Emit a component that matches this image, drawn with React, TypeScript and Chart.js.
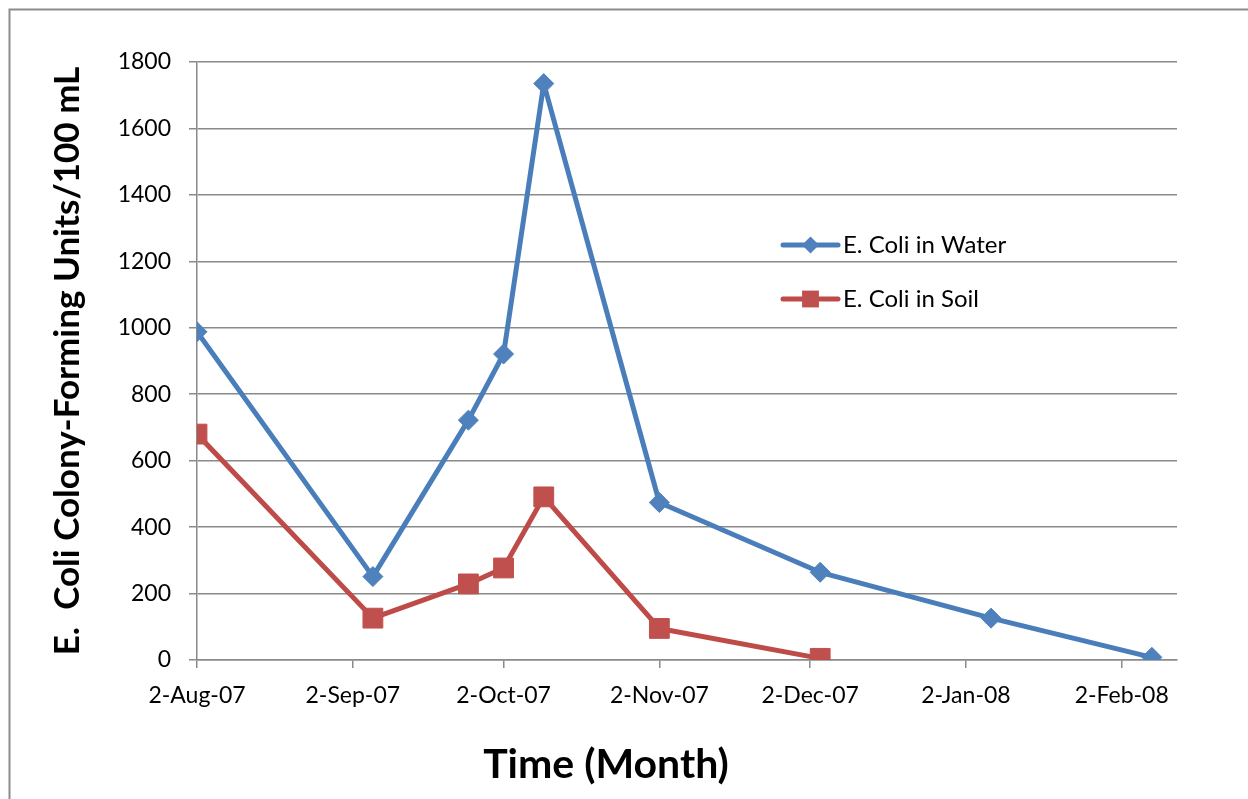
import React, { useEffect, useRef } from 'react';
import { Chart, registerables } from 'chart.js';

Chart.register(...registerables);

// ---- data ----
const seriesLabels = ['E. Coli in Water', 'E. Coli in Soil'];
const waterDates = ['2007-08-02', '2007-09-06', '2007-09-25', '2007-10-02', '2007-10-10', '2007-11-02', '2007-12-04', '2008-01-07', '2008-02-08'];
const waterCFU = [988, 251, 722, 921, 1735, 474, 264, 126, 8];
const soilDates = ['2007-08-02', '2007-09-06', '2007-09-25', '2007-10-02', '2007-10-10', '2007-11-02', '2007-12-04'];
const soilCFU = [680, 126, 229, 277, 491, 95, 5];
const xTickDates = ['2007-08-02', '2007-09-02', '2007-10-02', '2007-11-02', '2007-12-02', '2008-01-02', '2008-02-02'];
const xTickLabels = ['2-Aug-07', '2-Sep-07', '2-Oct-07', '2-Nov-07', '2-Dec-07', '2-Jan-08', '2-Feb-08'];
const xAxisEndDate = '2008-02-13';
const yMin = 0;
const yMax = 1800;
const yStep = 200;
const xTitle = 'Time (Month)';
const yTitle = 'E.  Coli Colony-Forming Units/100 mL';

const originDate = xTickDates[0];
const dayOf = (s: string) => (Date.parse(s) - Date.parse(originDate)) / 86400000;

const FONT = 'Lato';
const BLUE_LINE = '#4A7EBB';
const BLUE_MARK = '#4F81BD';
const RED_LINE = '#BE4B48';
const RED_MARK = '#C0504D';
const GRID = '#8a8a8a';

function drawMarker(ctx: CanvasRenderingContext2D, style: string, x: number, y: number, r: number, fill: string) {
  ctx.save();
  ctx.fillStyle = fill;
  ctx.beginPath();
  if (style === 'rectRot') {
    ctx.moveTo(x - r, y);
    ctx.lineTo(x, y - r);
    ctx.lineTo(x + r, y);
    ctx.lineTo(x, y + r);
    ctx.closePath();
  } else {
    const h = r * Math.SQRT1_2;
    ctx.rect(x - h, y - h, 2 * h, 2 * h);
  }
  ctx.fill();
  ctx.restore();
}

const framePlugin = {
  id: 'frame',
  beforeDraw(chart: any) {
    const ctx = chart.ctx;
    ctx.save();
    ctx.fillStyle = '#ffffff';
    ctx.fillRect(0, 0, chart.width, chart.height);
    ctx.strokeStyle = '#8c8c8c';
    ctx.lineWidth = 2;
    ctx.strokeRect(9.5, 9.5, chart.width + 50, chart.height + 50);
    ctx.restore();
  },
};

const xTitlePlugin = {
  id: 'xTitleText',
  afterDraw(chart: any, _args: any, opts: any) {
    const ctx = chart.ctx;
    ctx.save();
    ctx.fillStyle = '#000';
    ctx.font = `bold ${opts.fontSize}px ${FONT}`;
    ctx.textAlign = 'center';
    ctx.textBaseline = 'alphabetic';
    ctx.fillText(opts.text, opts.x, opts.y);
    ctx.restore();
  },
};

const insideLegendPlugin = {
  id: 'insideLegend',
  afterDraw(chart: any, _args: any, opts: any) {
    const ctx = chart.ctx;
    chart.data.datasets.forEach((ds: any, i: number) => {
      const y = opts.y + i * opts.gap;
      ctx.save();
      ctx.strokeStyle = ds.borderColor;
      ctx.lineWidth = ds.borderWidth;
      ctx.lineCap = 'round';
      ctx.beginPath();
      ctx.moveTo(opts.x, y);
      ctx.lineTo(opts.x + opts.lineLen, y);
      ctx.stroke();
      ctx.restore();
      drawMarker(ctx, ds.pointStyle, opts.x + opts.lineLen / 2, y, ds.pointRadius * 0.85, ds.pointBackgroundColor);
      ctx.save();
      ctx.fillStyle = '#000';
      ctx.font = `${opts.fontSize}px ${FONT}`;
      ctx.textBaseline = 'middle';
      ctx.textAlign = 'left';
      ctx.fillText(ds.label, opts.x + opts.lineLen + 5, y);
      ctx.restore();
    });
  },
};

export default function App() {
  const ref = useRef<HTMLCanvasElement>(null);

  useEffect(() => {
    if (!ref.current) return;
    const padLeft = 20;
    const padRight = 71;
    const padTop = 62;
    const plotLeft = 197;
    const plotBottom = 660;
    const chart = new Chart(ref.current, {
      type: 'line',
      data: {
        datasets: [
          {
            label: seriesLabels[0],
            data: waterDates.map((d, i) => ({ x: dayOf(d), y: waterCFU[i] })),
            borderColor: BLUE_LINE,
            backgroundColor: BLUE_MARK,
            pointBackgroundColor: BLUE_MARK,
            pointBorderColor: BLUE_MARK,
            pointBorderWidth: 1,
            borderWidth: 5,
            pointStyle: 'rectRot',
            pointRadius: 10,
            borderCapStyle: 'round',
            borderJoinStyle: 'round',
            tension: 0,
          },
          {
            label: seriesLabels[1],
            data: soilDates.map((d, i) => ({ x: dayOf(d), y: soilCFU[i] })),
            borderColor: RED_LINE,
            backgroundColor: RED_MARK,
            pointBackgroundColor: RED_MARK,
            pointBorderColor: RED_MARK,
            pointBorderWidth: 1,
            borderWidth: 5,
            pointStyle: 'rect',
            pointRadius: 14,
            borderCapStyle: 'round',
            borderJoinStyle: 'round',
            tension: 0,
          },
        ],
      },
      options: {
        animation: false,
        responsive: false,
        devicePixelRatio: 1,
        layout: { padding: { left: padLeft, right: padRight, top: padTop, bottom: 0 } },
        plugins: {
          legend: { display: false },
          tooltip: { enabled: false },
          insideLegend: { x: 783, y: 245, gap: 54, lineLen: 55, fontSize: 24 },
          xTitleText: { text: xTitle, x: 606, y: 778, fontSize: 41 },
        } as any,
        scales: {
          x: {
            type: 'linear',
            min: 0,
            max: dayOf(xAxisEndDate),
            afterBuildTicks: (scale: any) => {
              scale.ticks = xTickDates.map((d) => ({ value: dayOf(d) }));
            },
            afterFit: (scale: any) => {
              scale.height = 799 - plotBottom;
            },
            ticks: {
              autoSkip: false,
              maxRotation: 0,
              padding: 14,
              color: '#000',
              font: { family: FONT, size: 23 },
              callback: (v: any) => {
                const idx = xTickDates.findIndex((d) => dayOf(d) === v);
                return idx >= 0 ? xTickLabels[idx] : '';
              },
            },
            grid: { display: true, drawOnChartArea: false, drawTicks: true, tickLength: 8, color: GRID, lineWidth: 1.5 },
            border: { display: true, color: GRID, width: 1.5 },
            title: { display: false },
          },
          y: {
            type: 'linear',
            min: yMin,
            max: yMax,
            afterFit: (scale: any) => {
              scale.width = plotLeft - padLeft;
            },
            ticks: {
              stepSize: yStep,
              padding: 18,
              color: '#000',
              font: { family: FONT, size: 23 },
              callback: (v: any) => String(v),
            },
            grid: { display: true, drawTicks: true, tickLength: 8, color: GRID, lineWidth: 1.5 },
            border: { display: true, color: GRID, width: 1.5 },
            title: {
              display: true,
              text: yTitle,
              color: '#000',
              font: { family: FONT, size: 35, weight: 'bold' },
              padding: { top: 27, bottom: 0 },
            },
          },
        },
      },
      plugins: [framePlugin, insideLegendPlugin, xTitlePlugin],
    } as any);
    return () => chart.destroy();
  }, []);

  return (
    <div style={{ position: 'fixed', left: 0, top: 0, width: 1248, height: 799, background: '#fff', overflow: 'hidden' }}>
      <canvas ref={ref} width={1248} height={799} style={{ display: 'block', width: 1248, height: 799 }} />
    </div>
  );
}
